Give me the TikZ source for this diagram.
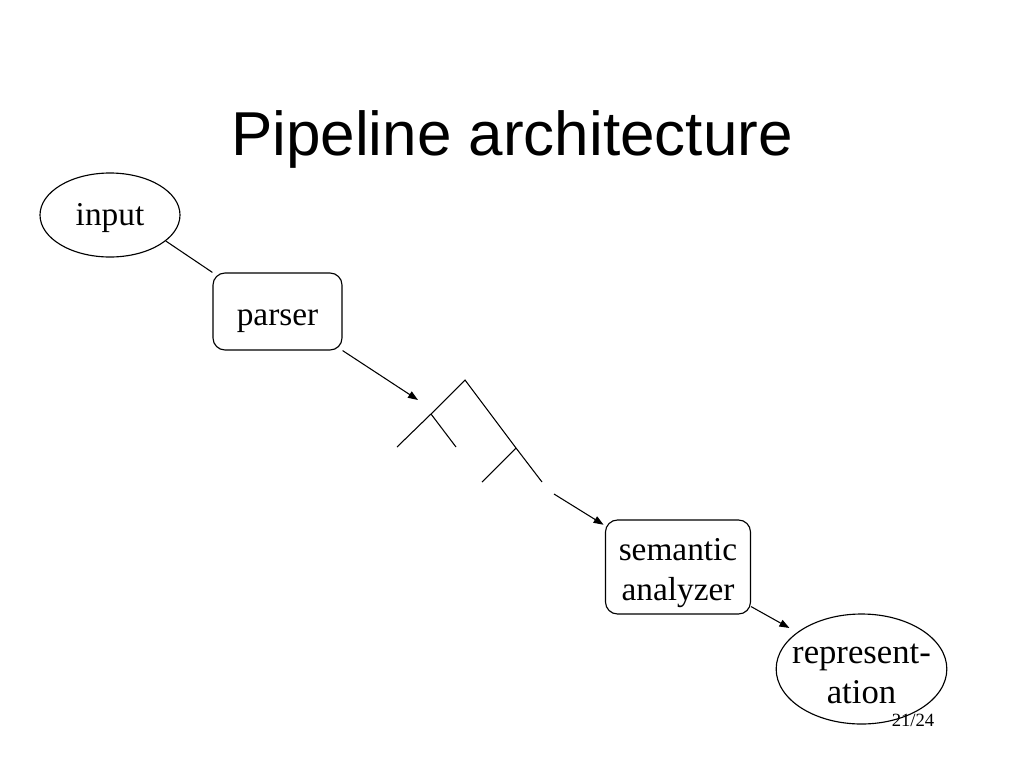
\documentclass[tikz,border=0pt]{standalone}
\usepackage{fontspec}
\setmainfont{Liberation Serif}
\newfontfamily\titlefont{Liberation Sans}
\usetikzlibrary{shapes.geometric,arrows.meta}
\newcommand{\twolines}[3]{\raisebox{0pt}[0pt][#1]{\makebox[0pt]{\begin{tabular}[t]{@{}c@{}}#2\\#3\end{tabular}}}}
\begin{document}
\begin{tikzpicture}[x=0.75pt,y=-0.75pt,
  every node/.style={inner sep=0pt},
  conn/.style={line width=0.8pt},
  arr/.style={conn,-{Triangle[length=7.5pt,width=5.5pt]}},
  oval/.style={draw,ellipse,line width=0.85pt,font=\fontsize{25pt}{30pt}\selectfont},
  procbox/.style={draw,rounded corners=9pt,line width=0.85pt,font=\fontsize{25pt}{30pt}\selectfont},
  treeline/.style={line width=0.8pt}]
\useasboundingbox (0,0) rectangle (1024,768);
\node (title) at (512,139) {\titlefont\fontsize{46.5pt}{52pt}\selectfont Pipeline architecture};
\node[oval,minimum width=105pt,minimum height=63pt,text height=15pt,text depth=0pt] (input) at (110,215) {input};
\node[procbox,minimum width=96.75pt,minimum height=57.75pt,text height=21.4pt,text depth=0pt] (parser) at (277.5,311.5) {parser};
\node[procbox,minimum width=108.75pt,minimum height=70.5pt] (sem) at (678,567) {\twolines{10.5pt}{semantic}{analyzer}};
\node[oval,minimum width=128pt,minimum height=82.5pt,font=\fontsize{26pt}{30pt}\selectfont] (rep) at (861.5,669) {\twolines{9pt}{represent-}{ation}};
\node (page) at (913,720) {\fontsize{14pt}{16pt}\selectfont 21/24};
% tree
\coordinate (root) at (465,380);
\coordinate (lb) at (431,414);
\coordinate (rb) at (516,448);
\coordinate (l1) at (397,447);
\coordinate (l2) at (456,447);
\coordinate (r1) at (482,482);
\coordinate (r2) at (542,482);
\draw[treeline] (l1) -- (lb) -- (root) -- (rb) -- (r2);
\draw[treeline] (lb) -- (l2);
\draw[treeline] (rb) -- (r1);
\coordinate (treein) at (418,400);
\coordinate (treeout) at (554,494);
% connectors
\draw[conn] (input.-25) -- (parser.north west);
\draw[arr] (parser.south east) -- (treein);
\draw[arr] (treeout) -- ([xshift=-1pt,yshift=-4pt]sem.north west);
\draw[arr] ([yshift=6pt]sem.south east) -- ([shift={(-6pt,3pt)}]rep.150);
\end{tikzpicture}
\end{document}
